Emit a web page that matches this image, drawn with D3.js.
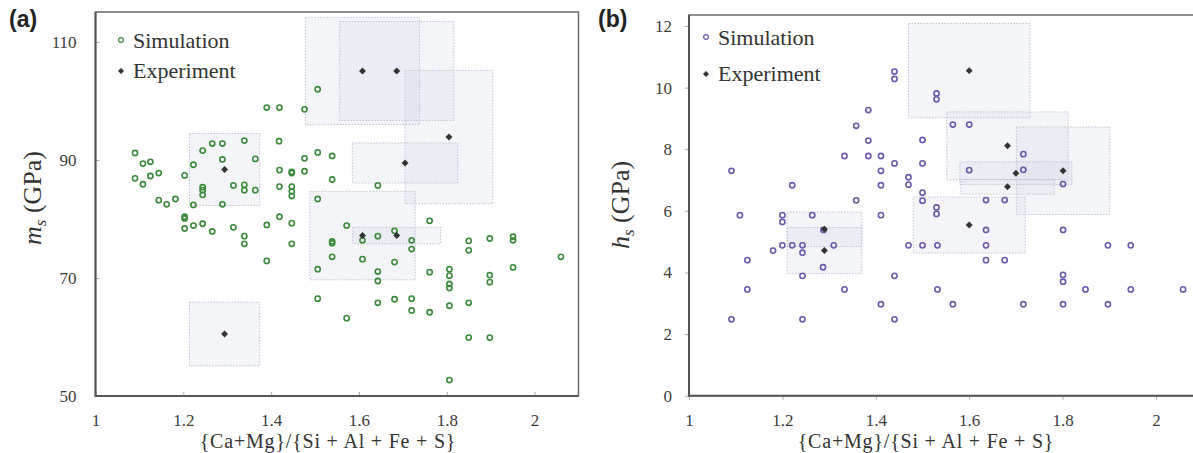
<!DOCTYPE html>
<html lang="en">
<head>
<meta charset="utf-8">
<title>Ca+Mg ratio scatter</title>
<script src="https://cdnjs.cloudflare.com/ajax/libs/d3/7.8.5/d3.min.js"></script>
<style>
  body { margin: 0; background: #fff; }
  text { font-family: "Liberation Serif", "Times New Roman", serif; }
</style>
</head>
<body>
<script>
var w = 1193;
var h = 453;

// tick values
var xTicks = [1, 1.2, 1.4, 1.6, 1.8, 2];
var yTicksA = [50, 70, 90, 110];
var yTicksB = [0, 2, 4, 6, 8, 10, 12];
var legendLabels = ["Simulation", "Experiment"];

// (a) simulation points [ratio, m_s]
var simA = [
  [1.390,98.9],[1.419,98.9],[1.476,98.6],[1.506,102.0],
  [1.339,93.3],[1.418,93.2],[1.266,92.8],[1.289,92.8],
  [1.090,91.2],[1.244,91.6],[1.506,91.3],[1.539,90.7],[1.476,90.3],[1.364,90.2],[1.289,90.1],
  [1.108,89.4],[1.125,89.7],[1.223,89.2],
  [1.419,88.3],[1.447,87.8],[1.447,88.0],[1.476,88.1],
  [1.203,87.4],[1.090,86.9],[1.125,87.3],[1.144,87.8],[1.108,85.9],
  [1.539,86.7],[1.314,85.7],[1.339,85.8],[1.339,84.9],[1.364,84.9],
  [1.244,85.4],[1.244,84.9],[1.244,84.1],
  [1.419,85.5],[1.447,85.5],[1.447,84.7],[1.447,83.9],
  [1.144,83.2],[1.162,82.5],[1.182,83.4],[1.223,82.4],[1.289,82.5],[1.506,83.4],
  [1.203,80.1],[1.203,80.4],[1.203,78.4],[1.223,78.9],[1.244,79.2],[1.266,77.9],[1.314,78.6],
  [1.339,77.1],[1.339,75.8],[1.390,79.0],[1.419,80.4],[1.447,79.3],[1.447,75.8],[1.390,72.9],
  [1.539,75.9],[1.539,76.2],[1.539,73.6],[1.506,71.5],[1.506,66.5],[1.572,78.9],[1.572,63.2],
  [1.643,85.7],[1.761,79.7],[1.681,78.0],[1.608,76.4],[1.643,77.1],[1.720,76.4],[1.720,74.9],
  [1.608,73.2],[1.681,72.7],[1.643,71.1],[1.643,69.5],[1.761,71.0],
  [1.806,71.5],[1.806,70.4],[1.806,69.0],[1.806,68.3],
  [1.850,76.3],[1.850,74.7],[1.898,76.7],[1.951,77.0],[1.951,76.4],[2.060,73.6],[1.951,71.8],
  [1.898,70.5],[1.898,69.3],
  [1.643,65.8],[1.681,66.4],[1.720,66.5],[1.720,64.5],[1.761,64.2],[1.806,65.3],[1.850,65.8],
  [1.850,59.9],[1.898,59.9],[1.806,52.7]
];

// (a) experiment [ratio, m_s, ratio err, m_s err]
var expA = [
  [1.294,88.4,0.080,6.1],[1.294,60.5,0.080,5.4],
  [1.608,105.1,0.130,9.1],[1.686,105.1,0.130,8.4],
  [1.805,93.9,0.100,11.3],[1.705,89.5,0.120,3.4],
  [1.608,77.2,0.120,7.5],[1.686,77.2,0.100,1.4]
];

// (b) simulation points [ratio, h_s]
var simB = [
  [1.440,10.52],[1.440,10.28],[1.530,9.81],[1.530,9.62],[1.384,9.27],[1.358,8.76],[1.384,8.28],[1.500,8.30],
  [1.333,7.78],[1.384,7.78],[1.411,7.78],[1.440,7.54],[1.500,7.54],[1.091,7.30],[1.411,7.30],
  [1.470,7.09],[1.470,6.85],[1.221,6.83],[1.411,6.83],[1.500,6.59],[1.500,6.33],[1.358,6.34],
  [1.530,6.11],[1.530,5.90],[1.109,5.86],[1.200,5.86],[1.200,5.64],[1.264,5.86],[1.411,5.86],
  [1.288,5.38],[1.200,4.88],[1.221,4.88],[1.243,4.88],[1.243,4.64],[1.180,4.71],[1.310,4.88],
  [1.470,4.88],[1.500,4.88],[1.532,4.88],[1.125,4.40],[1.287,4.17],[1.243,3.89],[1.440,3.89],
  [1.125,3.45],[1.333,3.45],[1.532,3.45],[1.411,2.97],[1.091,2.48],[1.243,2.48],[1.440,2.48],
  [1.565,8.80],[1.600,8.80],[1.716,7.84],[1.600,7.32],[1.716,7.33],[1.801,6.87],[1.636,6.35],[1.676,6.35],
  [1.636,5.38],[1.801,5.38],[1.636,4.88],[1.897,4.88],[1.946,4.88],[1.636,4.40],[1.676,4.40],
  [1.801,3.92],[1.801,3.70],[1.849,3.45],[1.946,3.45],[2.058,3.45],
  [1.565,2.97],[1.716,2.97],[1.801,2.97],[1.897,2.97]
];

// (b) experiment [ratio, h_s, ratio err, h_s err]
var expB = [
  [1.600,10.55,0.130,1.53],[1.682,8.11,0.130,1.10],
  [1.801,7.30,0.100,1.42],[1.700,7.22,0.120,0.37],
  [1.682,6.78,0.100,0.24],[1.600,5.54,0.120,0.91],
  [1.290,5.40,0.080,0.56],[1.290,4.71,0.080,0.75]
];

var svg = d3.select("body")
            .append("svg")
            .attr("width", w)
            .attr("height", h);

function drawPanel(p) {
    var xScale = d3.scaleLinear().domain([1, 2.1]).range([p.left, p.right]);
    var yScale = d3.scaleLinear().domain(p.yDomain).range([p.bottom, p.top]);
    var g = svg.append("g");

    // error boxes behind everything
    g.selectAll("rect.err")
        .data(p.exp)
        .enter()
        .append("rect")
        .attr("class", "err")
        .attr("x", function(d) { return xScale(d[0] - d[2]); })
        .attr("y", function(d) { return yScale(d[1] + d[3]); })
        .attr("width", function(d) { return xScale(d[0] + d[2]) - xScale(d[0] - d[2]); })
        .attr("height", function(d) { return yScale(d[1] - d[3]) - yScale(d[1] + d[3]); })
        .attr("fill", "#c9cde0")
        .attr("fill-opacity", 0.2)
        .attr("stroke", "#bfc2d3")
        .attr("stroke-width", 1)
        .attr("stroke-dasharray", "1.5,1.5");

    // axes
    var xAxis = d3.axisBottom(xScale)
                  .tickValues(xTicks)
                  .tickSize(p.tick)
                  .tickPadding(p.xPad)
                  .tickFormat(function(d) { return String(d); });
    var yAxis = d3.axisLeft(yScale)
                  .tickValues(p.yTicks)
                  .tickSize(p.tick)
                  .tickPadding(p.yPad)
                  .tickFormat(function(d) { return String(d); });

    var gx = g.append("g").attr("transform", "translate(0," + p.bottom + ")").call(xAxis);
    var gy = g.append("g").attr("transform", "translate(" + p.left + ",0)").call(yAxis);
    [gx, gy].forEach(function(a) {
        a.select(".domain").remove();
        a.selectAll(".tick line").attr("stroke", "#aaa").attr("stroke-width", 1);
        a.selectAll(".tick text")
            .attr("font-family", "Liberation Serif, serif")
            .attr("font-size", "17px")
            .attr("fill", "#3c3c3c");
    });

    // frame
    g.append("rect")
        .attr("x", p.left)
        .attr("y", p.top)
        .attr("width", p.right - p.left)
        .attr("height", p.bottom - p.top)
        .attr("fill", "none")
        .attr("stroke", "#6a6a6a")
        .attr("stroke-width", 1.5);
    g.append("path")
        .attr("d", "M" + p.left + "," + p.top + "V" + p.bottom + "H" + p.right)
        .attr("fill", "none")
        .attr("stroke", "#555")
        .attr("stroke-width", 2);

    // simulation
    g.selectAll("circle.sim")
        .data(p.sim)
        .enter()
        .append("circle")
        .attr("class", "sim")
        .attr("cx", function(d) { return xScale(d[0]); })
        .attr("cy", function(d) { return yScale(d[1]); })
        .attr("r", 2.6)
        .attr("fill", "none")
        .attr("stroke", p.color)
        .attr("stroke-width", 1.6);

    // experiment
    g.selectAll("path.exp")
        .data(p.exp)
        .enter()
        .append("path")
        .attr("class", "exp")
        .attr("d", d3.symbol().type(d3.symbolSquare).size(24))
        .attr("transform", function(d) {
            return "translate(" + xScale(d[0]) + "," + yScale(d[1]) + ") rotate(45)";
        })
        .attr("fill", "#333");

    // legend
    g.append("circle")
        .attr("cx", p.legX)
        .attr("cy", p.legY1 - 8)
        .attr("r", 2.4)
        .attr("fill", "none")
        .attr("stroke", p.color)
        .attr("stroke-width", 1.2);
    g.append("path")
        .attr("d", d3.symbol().type(d3.symbolSquare).size(18))
        .attr("transform", "translate(" + p.legX + "," + (p.legY2 - 7) + ") rotate(45)")
        .attr("fill", "#333");
    g.selectAll("text.leg")
        .data(legendLabels)
        .enter()
        .append("text")
        .attr("class", "leg")
        .attr("x", p.legX + 12)
        .attr("y", function(d, i) { return i === 0 ? p.legY1 : p.legY2; })
        .attr("font-size", "22px")
        .attr("fill", "#333")
        .text(function(d) { return d; });

    // panel letter
    g.append("text")
        .attr("x", p.letterX)
        .attr("y", 27)
        .attr("font-weight", "bold")
        .attr("font-size", "23px")
        .attr("fill", "#222")
        .style("font-family", "Liberation Sans, Arial, sans-serif")
        .text(p.letter);

    // x title
    g.append("text")
        .attr("x", p.xTitleX)
        .attr("y", 448)
        .attr("text-anchor", "middle")
        .attr("font-size", "20px")
        .attr("letter-spacing", "0.8px")
        .attr("fill", "#333")
        .text("{Ca+Mg}/{Si + Al + Fe + S}");

    // y title
    var yt = g.append("text")
        .attr("transform", "translate(" + p.yTitleX + "," + p.yTitleY + ") rotate(-90)")
        .attr("text-anchor", "middle")
        .attr("font-size", "26px")
        .attr("fill", "#333");
    yt.append("tspan").attr("font-style", "italic").text(p.ySym);
    yt.append("tspan").attr("font-style", "italic").attr("font-size", "17px").attr("dy", 5).text("s");
    yt.append("tspan").attr("dy", -5).text(" (GPa)");
}

drawPanel({
    left: 95.5, right: 578.5, top: 12, bottom: 396,
    yDomain: [50, 115.1], yTicks: yTicksA,
    tick: -4, xPad: 18, yPad: 19,
    sim: simA, exp: expA, color: "#3d8a3d",
    legX: 121, legY1: 48, legY2: 78,
    letter: "(a)", letterX: 9,
    xTitleX: 328, yTitleX: 41, yTitleY: 198, ySym: "m"
});

drawPanel({
    left: 689, right: 1202.7, top: 15, bottom: 395.7,
    yDomain: [0, 12.356], yTicks: yTicksB,
    tick: 4, xPad: 14, yPad: 13,
    sim: simB, exp: expB, color: "#6a5bab",
    legX: 706, legY1: 45, legY2: 81,
    letter: "(b)", letterX: 598,
    xTitleX: 926, yTitleX: 629, yTitleY: 205, ySym: "h"
});
</script>
</body>
</html>
